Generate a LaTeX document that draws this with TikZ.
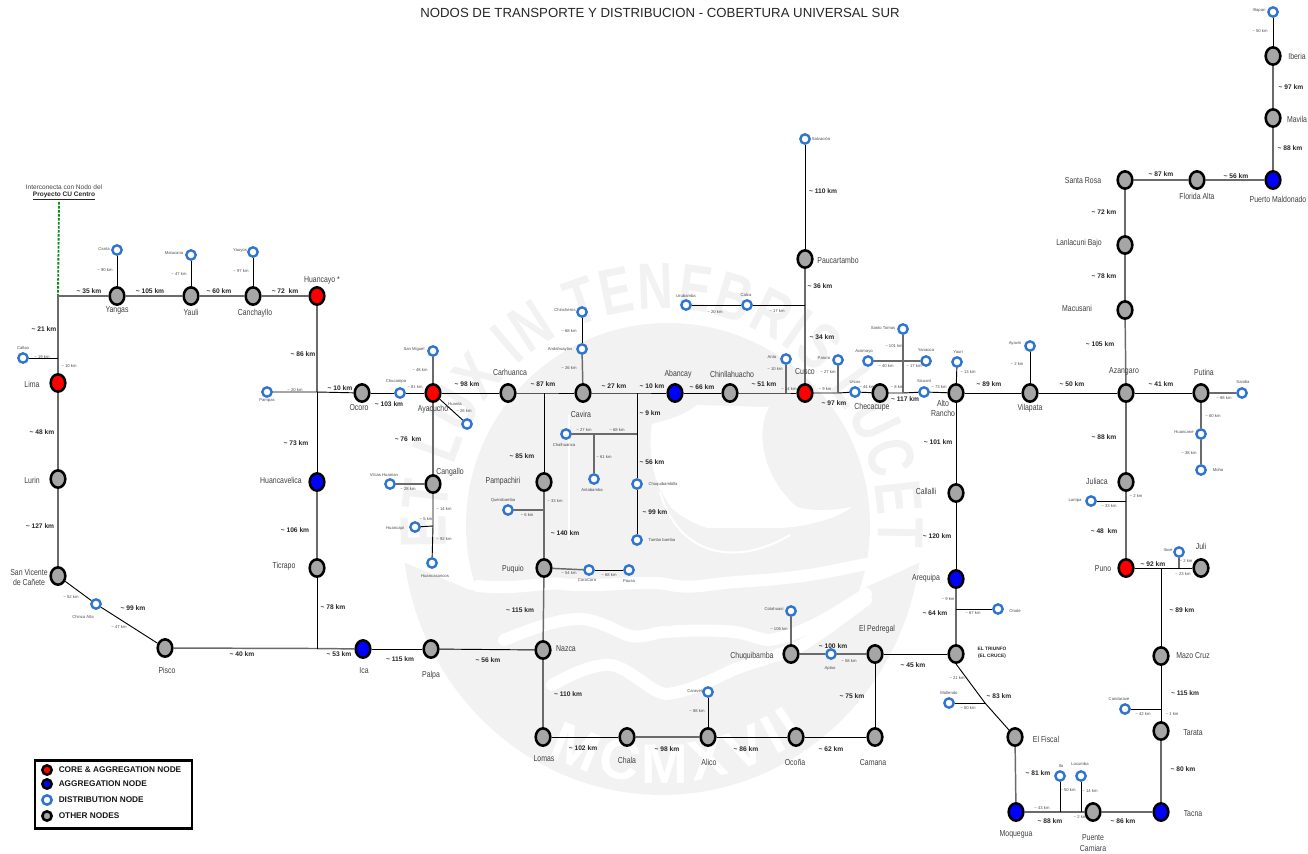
\documentclass[tikz,border=0pt]{standalone}
\usepackage{fontspec}
\setmainfont{Liberation Sans}
\newfontfamily\cond[FakeStretch=0.8]{Liberation Sans}
\newfontfamily\wmfont[FakeStretch=0.75]{Liberation Sans}
\usetikzlibrary{shapes.geometric,decorations.text}
\definecolor{wm}{HTML}{F2F2F2}
\definecolor{ringb}{HTML}{2F75D0}
\definecolor{othg}{HTML}{A6A6A6}
\definecolor{corer}{HTML}{FF0000}
\definecolor{aggb}{HTML}{0000FF}
\definecolor{lgray}{HTML}{6A6A6A}
\definecolor{dotg}{HTML}{0B8A1E}
\newcounter{lab}
\newcommand{\tl}[3]{\stepcounter{lab}\node[#1] (t\arabic{lab}) at (#2) {#3};}
\newcommand{\nm}[2]{\tl{biglab}{#1}{#2}}
\newcommand{\sn}[2]{\tl{smalllab}{#1}{#2}}
\newcommand{\km}[2]{\tl{kmlab}{#1}{\textasciitilde{} #2 km}}
\newcommand{\sk}[2]{\tl{smalllab}{#1}{\textasciitilde{} #2 km}}
\tikzset{
  bignode/.style={ellipse,draw=black,line width=1.9pt,minimum width=11pt,minimum height=13pt,inner sep=0pt},
  other/.style={bignode,fill=othg},
  core/.style={bignode,fill=corer},
  agg/.style={bignode,fill=aggb},
  dist/.style={circle,draw=ringb,fill=white,line width=1.8pt,minimum size=7pt,inner sep=0pt},
  lk/.style={draw=black,line width=0.7pt},
  lg/.style={draw=lgray,line width=1.1pt},
  biglab/.style={inner sep=0pt,align=center,font=\cond\fontsize{6.5}{7.6}\selectfont,text=black!75},
  smalllab/.style={inner sep=0pt,font=\fontsize{3.15}{4}\selectfont,text=black!70},
  kmlab/.style={inner sep=0pt,font=\fontsize{5}{6}\selectfont\bfseries,text=black!85},
  legtext/.style={inner sep=0pt,anchor=west,font=\fontsize{6.2}{7}\selectfont\bfseries,text=black!90},
  legdot/.style={circle,draw=black,line width=1.9pt,minimum size=7pt,inner sep=0pt},
  legring/.style={circle,draw=ringb,fill=white,line width=1.9pt,minimum size=7pt,inner sep=0pt},
}
\begin{document}
\begin{tikzpicture}[x=0.75pt,y=-0.75pt]
\useasboundingbox (0,0) rectangle (1308,853);
% ---- watermark seal
\fill[wm] plot[domain=188:352,samples=80] ({662+260*cos(\x)},{525-270*sin(\x)}) -- (860,590) -- (470,590) -- cycle;
\fill[wm] (668,525) circle [radius=202];
\fill[white] (697,405) -- (769,407) .. controls (752,440) and (770,485) .. (797,507) .. controls (815,512) and (835,510) .. (852,507) .. controls (835,520) and (800,528) .. (776,528) -- (707,528) .. controls (685,520) and (670,510) .. (666,499) .. controls (652,480) and (648,450) .. (652,424) .. controls (668,420) and (685,415) .. (697,405) -- cycle;
\draw[white,line width=1.5pt] (660,492) .. controls (680,560) and (740,565) .. (790,535);
\draw[white,line width=1pt] (569,415) -- (569,540);
\draw[white,line width=9pt,line cap=round] (478,586) .. controls (520,590) and (540,582) .. (562,584) .. controls (600,588) and (640,580) .. (666,584) .. controls (690,590) and (710,584) .. (735,582) .. controls (770,580) and (800,577) .. (821,573) .. controls (850,568) and (880,560) .. (907,557);
\draw[white,line width=9pt,line cap=round] (504,640) .. controls (540,625) and (565,618) .. (583,619) .. controls (605,622) and (620,634) .. (631,636) .. controls (645,638) and (655,632) .. (666,632) .. controls (690,630) and (715,630) .. (735,632) .. controls (750,634) and (760,640) .. (769,640) .. controls (805,635) and (840,610) .. (866,594);
\draw[white,line width=9pt,line cap=round] (552,685) .. controls (575,672) and (595,664) .. (611,665) .. controls (630,668) and (650,692) .. (666,694) .. controls (690,692) and (715,678) .. (735,669) .. controls (760,660) and (780,655) .. (797,648) .. controls (820,635) and (845,615) .. (866,600);
\path[decorate,decoration={text along path,text align={fit to path},text={|\wmfont\fontsize{49}{49}\selectfont\bfseries\color{wm}|ET LUX IN TENEBRIS LUCET}}] plot[domain=186:-6,samples=100] ({662+216*cos(\x)},{525-216*sin(\x)});
\path[decorate,decoration={text along path,text align={fit to path},text={|\fontsize{42}{42}\selectfont\bfseries\color{white}|MCMXVII}}] plot[domain=243:305,samples=50] ({662+252*cos(\x)},{525-258*sin(\x)});
% ---- big nodes
\node[core] (Lima) at (58,383) {};
\node[other] (Lurin) at (58,479) {};
\node[other] (SanVicente) at (58,576) {};
\node[other] (Pisco) at (165,648) {};
\node[other] (Yangas) at (117,296) {};
\node[other] (Yauli) at (191,296) {};
\node[other] (Canchayllo) at (253,296) {};
\node[core] (Huancayo) at (317,296) {};
\node[agg] (Huancavelica) at (317,482) {};
\node[other] (Ticrapo) at (317,568) {};
\node[agg] (Ica) at (363,649) {};
\node[other] (Palpa) at (431,649) {};
\node[other] (Nazca) at (543,650) {};
\node[other] (Lomas) at (543,737) {};
\node[other] (Chala) at (627,737) {};
\node[other] (Alico) at (708,737) {};
\node[other] (Ocona) at (796,737) {};
\node[other] (Camana) at (875,737) {};
\node[other] (Pedregal) at (875,654) {};
\node[other] (Chuquibamba) at (791,654) {};
\node[other] (Triunfo) at (956,654) {};
\node[agg] (Arequipa) at (956,579) {};
\node[other] (Callalli) at (956,493) {};
\node[other] (AltoRancho) at (956,393) {};
\node[other] (Checacupe) at (880,393) {};
\node[core] (Cusco) at (805,393) {};
\node[other] (Chinllahuacho) at (730,393) {};
\node[agg] (Abancay) at (675,393) {};
\node[other] (Cavira) at (583,393) {};
\node[other] (Carhuanca) at (508,393) {};
\node[core] (Ayacucho) at (433,393) {};
\node[other] (Ocoro) at (362,393) {};
\node[other] (Cangallo) at (433,484) {};
\node[other] (Pampachiri) at (544,482) {};
\node[other] (Puquio) at (544,568) {};
\node[other] (Paucartambo) at (805,259) {};
\node[other] (Vilapata) at (1030,393) {};
\node[other] (Azangaro) at (1126,393) {};
\node[other] (Putina) at (1201,393) {};
\node[other] (Juliaca) at (1126,482) {};
\node[core] (Puno) at (1126,568) {};
\node[other] (Juli) at (1201,568) {};
\node[other] (MazoCruz) at (1161,656) {};
\node[other] (Tarata) at (1161,731) {};
\node[agg] (Tacna) at (1161,812) {};
\node[other] (Puente) at (1093,812) {};
\node[agg] (Moquegua) at (1016,812) {};
\node[other] (Fiscal) at (1015,737) {};
\node[other] (Macusani) at (1125,310) {};
\node[other] (Lanlacuni) at (1125,245) {};
\node[other] (SantaRosa) at (1125,180) {};
\node[other] (Florida) at (1197,180) {};
\node[agg] (Maldonado) at (1273,180) {};
\node[other] (Mavila) at (1273,118) {};
\node[other] (Iberia) at (1273,56) {};
% ---- distribution nodes
\node[dist] (Canta) at (117,250) {};
\node[dist] (Matucana) at (191,255) {};
\node[dist] (Yauyos) at (253,252) {};
\node[dist] (Callao) at (23,358) {};
\node[dist] (Pampas) at (267,392) {};
\node[dist] (Chucampa) at (400,393) {};
\node[dist] (SanMiguel) at (433,351) {};
\node[dist] (Huanta) at (467,424) {};
\node[dist] (Vilcas) at (390,484) {};
\node[dist] (Huancapi) at (415,527) {};
\node[dist] (Huancasancos) at (432,563) {};
\node[dist] (Chincheros) at (582,312) {};
\node[dist] (Andahuaylas) at (582,349) {};
\node[dist] (Chalhuanca) at (566,434) {};
\node[dist] (Antabamba) at (594,479) {};
\node[dist] (Chuquibambilla) at (637,484) {};
\node[dist] (Tambo) at (637,540) {};
\node[dist] (Querobamba) at (508,510) {};
\node[dist] (CoraCora) at (589,570) {};
\node[dist] (Pausa) at (629,570) {};
\node[dist] (Chinca) at (96,604) {};
\node[dist] (Urubamba) at (686,305) {};
\node[dist] (Calca) at (747,305) {};
\node[dist] (Salvacion) at (805,139) {};
\node[dist] (Anta) at (786,359) {};
\node[dist] (Paruro) at (838,360) {};
\node[dist] (Urcos) at (855,392) {};
\node[dist] (SantoTomas) at (903,329) {};
\node[dist] (Acomayo) at (868,361) {};
\node[dist] (Yanaoca) at (926,361) {};
\node[dist] (Sicuani) at (924,392) {};
\node[dist] (Yauri) at (957,362) {};
\node[dist] (Ayaviri) at (1030,346) {};
\node[dist] (Sandia) at (1242,393) {};
\node[dist] (Huancane) at (1201,434) {};
\node[dist] (Moho) at (1201,470) {};
\node[dist] (Lampa) at (1091,501) {};
\node[dist] (Ilave) at (1179,552) {};
\node[dist] (Onate) at (998,609) {};
\node[dist] (Cotahuasi) at (791,611) {};
\node[dist] (Aplao) at (831,654) {};
\node[dist] (Caraveli) at (708,692) {};
\node[dist] (Mollendo) at (949,703) {};
\node[dist] (Candarave) at (1125,709) {};
\node[dist] (Ilo) at (1060,776) {};
\node[dist] (Locumba) at (1081,776) {};
\node[dist] (Inapari) at (1273,12) {};
% ---- junctions
\coordinate (jTop) at (58,296);
\coordinate (jDot) at (59,202);
\coordinate (jCallao) at (58,358);
\coordinate (jPampas) at (317,392);
\coordinate (jTicrapo) at (317,648.5);
\coordinate (jHuancapi) at (433,526);
\coordinate (jPamp) at (544,393);
\coordinate (jQuero) at (544,510);
\coordinate (jCh) at (637,393);
\coordinate (jCh2) at (637,434);
\coordinate (jAnta2) at (594,434);
\coordinate (jCalca) at (805,305);
\coordinate (jAnta) at (786,393);
\coordinate (jParuro) at (838,393);
\coordinate (jSanto) at (903,393);
\coordinate (jAco) at (903,361);
\coordinate (jLampa) at (1126,501);
\coordinate (jIlave) at (1179,568);
\coordinate (jMazo) at (1161,568);
\coordinate (jCand) at (1161,709);
\coordinate (jOnate) at (956,609);
\coordinate (jMoll) at (985,703);
\coordinate (jIlo) at (1060,812);
\coordinate (jLoc) at (1081,812);
% ---- connectors
\draw[dotg,line width=1.4pt,dash pattern=on 2pt off 1pt] (jDot) -- (jTop);
\draw[lg] (Lima) -- (jCallao) -- (jTop) -- (Yangas);
\draw[lg] (Yangas) -- (Yauli);
\draw[lg] (Yauli) -- (Canchayllo);
\draw[lg] (Canchayllo) -- (Huancayo);
\draw[lk] (Callao) -- (jCallao);
\draw[lk] (Canta) -- (Yangas);
\draw[lk] (Matucana) -- (Yauli);
\draw[lk] (Yauyos) -- (Canchayllo);
\draw[lg] (Lima) -- (Lurin);
\draw[lg] (Lurin) -- (SanVicente);
\draw[lk] (SanVicente) -- (Chinca);
\draw[lk] (Chinca) -- (Pisco);
\draw[lg] (Pisco) -- (jTicrapo) -- (Ica);
\draw[lk] (Ica) -- (Palpa);
\draw[lk] (Palpa) -- (Nazca);
\draw[lg] (Huancayo) -- (jPampas);
\draw[lk] (jPampas) -- (Huancavelica);
\draw[lg] (Huancavelica) -- (Ticrapo);
\draw[lk] (Ticrapo) -- (jTicrapo);
\draw[lk] (Pampas) -- (jPampas) -- (Ocoro);
\draw[lk] (Ocoro) -- (Chucampa);
\draw[lk] (Chucampa) -- (Ayacucho);
\draw[lg] (SanMiguel) -- (Ayacucho);
\draw[lk] (Ayacucho) -- (Huanta);
\draw[lg] (Ayacucho) -- (Cangallo);
\draw[lg] (Vilcas) -- (Cangallo);
\draw[lk] (Cangallo) -- (jHuancapi) -- (Huancasancos);
\draw[lk] (Huancapi) -- (jHuancapi);
\draw[lk] (Ayacucho) -- (Carhuanca);
\draw[lk] (Carhuanca) -- (jPamp) -- (Cavira);
\draw[lk] (jPamp) -- (Pampachiri);
\draw[lg] (Pampachiri) -- (jQuero) -- (Puquio);
\draw[lg] (Querobamba) -- (jQuero);
\draw[lg] (Puquio) -- (CoraCora);
\draw[lk] (CoraCora) -- (Pausa);
\draw[lg] (Puquio) -- (Nazca);
\draw[lg] (Nazca) -- (Lomas);
\draw[lk] (Chincheros) -- (Andahuaylas);
\draw[lg] (Andahuaylas) -- (Cavira);
\draw[lk] (Cavira) -- (jCh) -- (Abancay);
\draw[lk] (jCh) -- (jCh2) -- (Chuquibambilla);
\draw[lk] (Chuquibambilla) -- (Tambo);
\draw[lg] (Chalhuanca) -- (jAnta2) -- (jCh2);
\draw[lg] (jAnta2) -- (Antabamba);
\draw[lk] (Abancay) -- (Chinllahuacho);
\draw[lk] (Chinllahuacho) -- (jAnta) -- (Cusco);
\draw[lg] (Anta) -- (jAnta);
\draw[lg] (Cusco) -- (jCalca) -- (Paucartambo);
\draw[lk] (Paucartambo) -- (Salvacion);
\draw[lk] (Urubamba) -- (Calca);
\draw[lk] (Calca) -- (jCalca);
\draw[lk] (Cusco) -- (jParuro) -- (Urcos);
\draw[lg] (Paruro) -- (jParuro);
\draw[lk] (Urcos) -- (Checacupe);
\draw[lk] (Checacupe) -- (jSanto) -- (Sicuani);
\draw[lg] (jSanto) -- (jAco) -- (SantoTomas);
\draw[lg] (Acomayo) -- (jAco) -- (Yanaoca);
\draw[lk] (Sicuani) -- (AltoRancho);
\draw[lk] (Yauri) -- (AltoRancho);
\draw[lk] (AltoRancho) -- (Vilapata);
\draw[lk] (Ayaviri) -- (Vilapata);
\draw[lk] (Vilapata) -- (Azangaro);
\draw[lk] (Azangaro) -- (Putina);
\draw[lg] (Putina) -- (Sandia);
\draw[lg] (Putina) -- (Huancane);
\draw[lg] (Huancane) -- (Moho);
\draw[lg] (Azangaro) -- (Juliaca);
\draw[lg] (Juliaca) -- (jLampa) -- (Puno);
\draw[lk] (Lampa) -- (jLampa);
\draw[lk] (Puno) -- (jMazo) -- (jIlave) -- (Juli);
\draw[lg] (Ilave) -- (jIlave);
\draw[lk] (jMazo) -- (MazoCruz);
\draw[lk] (MazoCruz) -- (jCand) -- (Tarata);
\draw[lk] (Candarave) -- (jCand);
\draw[lg] (Tarata) -- (Tacna);
\draw[lg] (Azangaro) -- (Macusani);
\draw[lg] (Macusani) -- (Lanlacuni);
\draw[lg] (Lanlacuni) -- (SantaRosa);
\draw[lg] (SantaRosa) -- (Florida);
\draw[lg] (Florida) -- (Maldonado);
\draw[lg] (Maldonado) -- (Mavila);
\draw[lg] (Mavila) -- (Iberia);
\draw[lk] (Iberia) -- (Inapari);
\draw[lk] (AltoRancho) -- (Callalli);
\draw[lk] (Callalli) -- (Arequipa);
\draw[lg] (Arequipa) -- (jOnate) -- (Triunfo);
\draw[lk] (Onate) -- (jOnate);
\draw[lk] (Triunfo) -- (Pedregal);
\draw[lg] (Pedregal) -- (Aplao);
\draw[lg] (Aplao) -- (Chuquibamba);
\draw[lg] (Cotahuasi) -- (Chuquibamba);
\draw[lk] (Pedregal) -- (Camana);
\draw[lk] (Camana) -- (Ocona);
\draw[lk] (Ocona) -- (Alico);
\draw[lg] (Alico) -- (Chala);
\draw[lk] (Chala) -- (Lomas);
\draw[lk] (Caraveli) -- (Alico);
\draw[lk] (Triunfo.south) -- (jMoll) -- (Fiscal.north west);
\draw[lk] (Mollendo) -- (jMoll);
\draw[lg] (Fiscal) -- (Moquegua);
\draw[lg] (Moquegua) -- (jIlo) -- (jLoc) -- (Puente);
\draw[lk] (Ilo) -- (jIlo);
\draw[lk] (Locumba) -- (jLoc);
\draw[lg] (Puente) -- (Tacna);
% ---- title and note
\tl{inner sep=0pt,font=\fontsize{9.9}{12}\selectfont,text=black!85}{660,13}{NODOS DE TRANSPORTE Y DISTRIBUCION - COBERTURA UNIVERSAL SUR}
\tl{inner sep=0pt,font=\fontsize{4.9}{6}\selectfont,text=black!75}{64,187}{Interconecta con Nodo del}
\tl{inner sep=0pt,font=\fontsize{4.9}{6}\selectfont\bfseries,text=black!85}{64,196}{\underline{Proyecto CU Centro}}
% ---- big labels
\nm{117,310}{Yangas}\nm{191,312}{Yauli}\nm{255,313}{Canchayllo}\nm{322,280}{Huancayo *}
\nm{32,384}{Lima}\nm{32,480}{Lurin}\nm{29,577}{San Vicente\\de Cañete}\nm{167,670}{Pisco}
\nm{359,408}{Ocoro}\nm{433,409}{Ayacucho}\nm{510,372}{Carhuanca}\nm{581,414}{Cavira}
\nm{678,374}{Abancay}\nm{732,374}{Chinllahuacho}\nm{805,372}{Cusco}\nm{872,407}{Checacupe}
\nm{943,408}{Alto\\Rancho}\nm{1030,408}{Vilapata}\nm{1124,371}{Azangaro}\nm{1204,372}{Putina}
\nm{1097,481}{Juliaca}\nm{1103,569}{Puno}\nm{1201,546}{Juli}\nm{1193,656}{Mazo Cruz}
\nm{1193,733}{Tarata}\nm{1193,814}{Tacna}\nm{1093,843}{Puente\\Camiara}\nm{1016,834}{Moquegua}
\nm{1046,739}{El Fiscal}\nm{1083,181}{Santa Rosa}\nm{1079,243}{Lanlacuni Bajo}\nm{1077,308}{Macusani}
\nm{1197,196}{Florida Alta}\nm{1278,199}{Puerto Maldonado}\nm{1297,119}{Mavila}\nm{1297,56}{Iberia}
\nm{838,260}{Paucartambo}\nm{281,480}{Huancavelica}\nm{284,566}{Ticrapo}\nm{364,671}{Ica}
\nm{431,675}{Palpa}\nm{566,649}{Nazca}\nm{544,759}{Lomas}\nm{627,760}{Chala}\nm{709,762}{Alico}
\nm{795,762}{Ocoña}\nm{873,763}{Camana}\nm{450,472}{Cangallo}\nm{503,481}{Pampachiri}
\nm{513,569}{Puquio}\nm{752,656}{Chuquibamba}\nm{877,629}{El Pedregal}\nm{926,491}{Callalli}\nm{926,578}{Arequipa}
\tl{inner sep=0pt,align=center,font=\fontsize{3.6}{5.2}\selectfont\bfseries,text=black!85}{992,653}{EL TRIUNFO\\(EL CRUCE)}
% ---- small names
\sn{104,249}{Canta}\sn{174,253}{Matucana}\sn{240,250}{Yauyos}\sn{23,348}{Callao}\sn{267,400}{Pampas}
\sn{396,381}{Chucampa}\sn{414,349}{San Miguel}\sn{455,404}{Huanta}\sn{384,475}{Vilcas Huaman}
\sn{395,528}{Huancapi}\sn{435,576}{Huancasancos}\sn{565,310}{Chincheros}\sn{560,349}{Andahuaylas}
\sn{564,445}{Chalhuanca}\sn{592,490}{Antabamba}\sn{663,484}{Chuquibambilla}\sn{662,540}{Tambo bamba}
\sn{503,500}{Querobamba}\sn{587,580}{CoraCora}\sn{629,581}{Pausa}\sn{83,617}{Chinca Alta}
\sn{686,296}{Urubamba}\sn{746,295}{Calca}\sn{821,139}{Salvación}\sn{772,357}{Anta}\sn{824,358}{Paruro}
\sn{855,382}{Urcos}\sn{883,328}{Santo Tomas}\sn{864,351}{Acomayo}\sn{926,350}{Yanaoca}\sn{924,381}{Sicuani}
\sn{958,352}{Yauri}\sn{1015,343}{Ayaviri}\sn{1243,382}{Sandia}\sn{1184,432}{Huancane}\sn{1218,470}{Moho}
\sn{1075,500}{Lampa}\sn{1168,550}{Ilave}\sn{1015,611}{Onate}\sn{774,609}{Cotahuasi}\sn{830,668}{Aplao}
\sn{695,691}{Caraveli}\sn{949,693}{Mollendo}\sn{1119,699}{Candarave}\sn{1061,766}{Ilo}\sn{1080,764}{Locumba}
\sn{1259,10}{Iñapari}
% ---- small km
\sk{105,270}{90}\sk{179,274}{47}\sk{241,271}{97}\sk{42,357}{19}\sk{69,366}{10}\sk{295,390}{20}
\sk{415,387}{81}\sk{420,370}{48}\sk{464,411}{26}\sk{408,489}{28}\sk{444,509}{14}\sk{426,519}{5}\sk{444,539}{92}
\sk{569,331}{68}\sk{569,368}{26}\sk{584,430}{27}\sk{617,430}{68}\sk{604,457}{61}\sk{555,501}{33}\sk{527,515}{6}
\sk{569,573}{54}\sk{609,575}{68}\sk{715,312}{20}\sk{777,311}{17}\sk{775,369}{10}\sk{789,389}{14}\sk{825,389}{9}
\sk{828,372}{27}\sk{867,387}{44}\sk{894,346}{101}\sk{886,366}{40}\sk{914,366}{17}\sk{897,387}{8}\sk{939,387}{73}
\sk{968,372}{13}\sk{1017,364}{2}\sk{1224,398}{88}\sk{1213,416}{60}\sk{1189,453}{38}\sk{1136,496}{2}\sk{1109,506}{33}
\sk{1186,561}{2}\sk{1183,574}{23}\sk{948,599}{9}\sk{973,613}{67}\sk{779,629}{106}\sk{849,661}{58}\sk{957,678}{21}
\sk{968,708}{60}\sk{697,711}{88}\sk{1143,714}{42}\sk{1172,714}{1}\sk{1068,790}{50}\sk{1090,791}{14}\sk{1042,808}{43}
\sk{1080,817}{2}\sk{71,597}{52}\sk{119,627}{47}\sk{1260,31}{50}
% ---- bold km
\km{89,291}{35}\km{150,291}{105}\km{219,291}{60}\km{285,291}{72\ }\km{44,329}{21}\km{303,354}{86}\km{340,388}{10}
\km{42,432}{48}\km{40,526}{127}\km{133,608}{99}\km{242,654}{40}\km{339,654}{53}\km{296,443}{73}\km{295,530}{106}
\km{333,607}{78}\km{400,659}{115}\km{488,660}{56}\km{389,404}{103}\km{467,384}{98}\km{408,439}{76\ }\km{543,384}{87}
\km{614,386}{27}\km{652,386}{10}\km{650,413}{9}\km{522,456}{85}\km{565,533}{140}\km{652,462}{56}\km{655,512}{99}
\km{520,610}{115}\km{568,694}{110}\km{583,748}{102}\km{667,749}{98}\km{746,749}{86}\km{831,749}{62}\km{852,696}{75}
\km{913,665}{45}\km{833,646}{100}\km{935,613}{64}\km{999,696}{83}\km{937,536}{120}\km{938,442}{101}\km{702,387}{66}
\km{764,384}{51}\km{834,403}{97}\km{905,399}{117}\km{820,286}{36}\km{822,337}{34}\km{823,191}{110}\km{989,384}{89}
\km{1072,384}{50}\km{1161,384}{41}\km{1100,344}{105}\km{1104,276}{78}\km{1104,212}{72}\km{1104,437}{88}\km{1104,531}{48\ }
\km{1153,564}{92}\km{1182,610}{89}\km{1185,693}{115}\km{1183,769}{80}\km{1123,821}{86}\km{1050,821}{88}\km{1038,773}{81}
\km{1161,174}{87}\km{1236,176}{56}\km{1290,148}{88}\km{1291,87}{97}
% ---- legend
\node[draw=black,line width=1.6pt,fill=white,minimum width=118pt,minimum height=51pt,inner sep=0pt] (legend) at (113.5,794.5) {};
\node[legdot,fill=corer] (leg1) at (47,770) {};
\node[legdot,fill=aggb] (leg2) at (47,784) {};
\node[legring] (leg3) at (47,800) {};
\node[legdot,fill=othg] (leg4) at (47,816) {};
\node[legtext] (legt1) at (58.5,770) {CORE \& AGGREGATION NODE};
\node[legtext] (legt2) at (58.5,784) {AGGREGATION NODE};
\node[legtext] (legt3) at (58.5,800) {DISTRIBUTION NODE};
\node[legtext] (legt4) at (58.5,816) {OTHER NODES};
\end{tikzpicture}
\end{document}
